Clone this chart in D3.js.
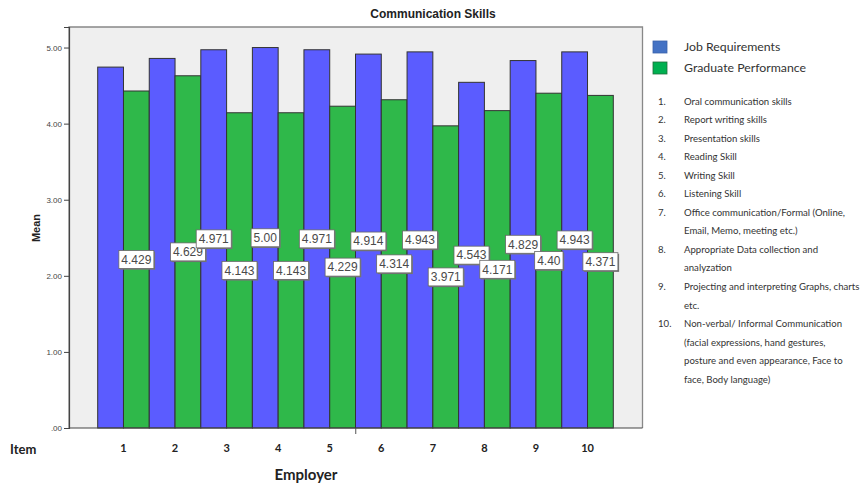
<!DOCTYPE html>
<html>
<head>
<meta charset="utf-8">
<script src="https://cdn.jsdelivr.net/npm/d3@7"></script>
<style>
  html, body { margin: 0; padding: 0; background: #fff; }
  svg { display: block; }
</style>
</head>
<body>
<svg id="chart" width="860" height="484"></svg>
<script>
// Item numbers along the x axis
const items = ["1", "2", "3", "4", "5", "6", "7", "8", "9", "10"];
// Mean scores per item
const jobRequirements = [4.743, 4.857, 4.971, 5.00, 4.971, 4.914, 4.943, 4.543, 4.829, 4.943];
const graduatePerformance = [4.429, 4.629, 4.143, 4.143, 4.229, 4.314, 3.971, 4.171, 4.40, 4.371];
// Value labels shown on the bars (null = no label)
const jobLabels = [null, null, "4.971", "5.00", "4.971", "4.914", "4.943", "4.543", "4.829", "4.943"];
const gradLabels = ["4.429", "4.629", "4.143", "4.143", "4.229", "4.314", "3.971", "4.171", "4.40", "4.371"];
const seriesNames = ["Job Requirements", "Graduate Performance"];
const yTicks = [0, 1, 2, 3, 4, 5];
const itemDescriptions = [
  ["1.", ["Oral communication skills"]],
  ["2.", ["Report writing skills"]],
  ["3.", ["Presentation skills"]],
  ["4.", ["Reading Skill"]],
  ["5.", ["Writing Skill"]],
  ["6.", ["Listening Skill"]],
  ["7.", ["Office communication/Formal (Online,", "Email, Memo, meeting etc.)"]],
  ["8.", ["Appropriate Data collection and", "analyzation"]],
  ["9.", ["Projecting and interpreting Graphs, charts", "etc."]],
  ["10.", ["Non-verbal/ Informal Communication", "(facial expressions, hand gestures,", "posture and even appearance, Face to", "face, Body language)"]]
];

const svg = d3.select("#chart");
const frame = { left: 69, right: 642.5, top: 27, bottom: 428 };
const barColors = ["#5b5cff", "#2fb84a"];
const legendColors = ["#4472c4", "#00b050"];

const x = d3.scaleBand().domain(items).range([97.7, 613.3]).paddingInner(0).paddingOuter(0);
const xs = d3.scaleBand().domain([0, 1]).range([0, x.bandwidth()]);
const y = d3.scaleLinear().domain([0, 5.27]).range([frame.bottom, frame.top]);

// Plot background
svg.append("rect")
  .attr("x", frame.left).attr("y", frame.top)
  .attr("width", frame.right - frame.left).attr("height", frame.bottom - frame.top)
  .attr("fill", "#efefef");

// Title
svg.append("text")
  .attr("x", 433).attr("y", 18)
  .attr("text-anchor", "middle")
  .attr("font-family", "Liberation Sans, Arial, sans-serif")
  .attr("font-weight", "bold").attr("font-size", 12).attr("fill", "#222")
  .text("Communication Skills");

// Bars
const seriesData = [jobRequirements, graduatePerformance];
const groups = svg.append("g").selectAll("g")
  .data(items).join("g")
  .attr("transform", d => `translate(${x(d)},0)`);

groups.selectAll("rect")
  .data((d, i) => [0, 1].map(s => ({ s, v: seriesData[s][i] })))
  .join("rect")
  .attr("x", d => xs(d.s))
  .attr("y", d => y(d.v))
  .attr("width", xs.bandwidth())
  .attr("height", d => y(0) - y(d.v))
  .attr("fill", d => barColors[d.s])
  .attr("stroke", "#333").attr("stroke-width", 1);

// Frame lines
svg.append("path")
  .attr("d", `M${frame.left},${frame.bottom}V${frame.top}H${frame.right}V${frame.bottom}`)
  .attr("fill", "none").attr("stroke", "#888").attr("stroke-width", 1.3);

// Y axis
const yAxis = d3.axisLeft(y).tickValues(yTicks).tickSize(5).tickPadding(2)
  .tickFormat(d => d === 0 ? ".00" : d3.format(".2f")(d));
const yg = svg.append("g").attr("transform", `translate(${frame.left},0)`).call(yAxis);
yg.select(".domain").attr("stroke", "#444").attr("stroke-width", 1.2);
yg.selectAll(".tick line").attr("stroke", "#444");
yg.selectAll(".tick text").attr("font-family", "Liberation Sans, Arial, sans-serif")
  .attr("font-size", 8).attr("fill", "#444");

// X axis baseline
svg.append("line")
  .attr("x1", frame.left).attr("x2", frame.right)
  .attr("y1", frame.bottom).attr("y2", frame.bottom)
  .attr("stroke", "#444").attr("stroke-width", 1.2);
svg.append("line")
  .attr("x1", (frame.left + frame.right) / 2).attr("x2", (frame.left + frame.right) / 2)
  .attr("y1", frame.bottom).attr("y2", frame.bottom + 6)
  .attr("stroke", "#555").attr("stroke-width", 1);

// Item numbers
svg.append("g").selectAll("text")
  .data(items).join("text")
  .attr("x", d => x(d) + x.bandwidth() / 2)
  .attr("y", 452)
  .attr("text-anchor", "middle")
  .attr("font-family", "Lato, Carlito, sans-serif")
  .attr("font-weight", "bold").attr("font-size", 11).attr("fill", "#222")
  .text(d => d);

svg.append("text")
  .attr("x", 10).attr("y", 454)
  .attr("font-family", "Lato, Carlito, sans-serif")
  .attr("font-weight", "bold").attr("font-size", 13).attr("fill", "#222")
  .text("Item");

svg.append("text")
  .attr("x", 306).attr("y", 480)
  .attr("text-anchor", "middle")
  .attr("font-family", "Lato, Carlito, sans-serif")
  .attr("font-weight", "bold").attr("font-size", 15).attr("fill", "#222")
  .text("Employer");

svg.append("text")
  .attr("transform", `translate(40,228) rotate(-90)`)
  .attr("text-anchor", "middle")
  .attr("font-family", "Liberation Sans, Arial, sans-serif")
  .attr("font-weight", "bold").attr("font-size", 11).attr("fill", "#222")
  .text("Mean");

// Value labels at bar midpoints
const labelData = [];
items.forEach((it, i) => {
  [jobLabels, gradLabels].forEach((arr, s) => {
    if (arr[i] !== null) {
      labelData.push({ cx: x(it) + xs(s) + xs.bandwidth() / 2, cy: y(seriesData[s][i] / 2), text: arr[i] });
    }
  });
});

const lab = svg.append("g").selectAll("g").data(labelData).join("g")
  .attr("transform", d => `translate(${d.cx},${d.cy})`);
const shadow = lab.append("rect").attr("fill", "#777");
const box = lab.append("rect").attr("fill", "#fff").attr("stroke", "#666").attr("stroke-width", 0.8);
const txt = lab.append("text")
  .attr("text-anchor", "middle").attr("dy", "0.36em")
  .attr("font-family", "Liberation Sans, Arial, sans-serif")
  .attr("font-size", 12).attr("fill", "#4a4a4a")
  .text(d => d.text);
txt.each(function(d) { d.w = this.getComputedTextLength() + 5; });
box.attr("x", d => -d.w / 2).attr("y", -9).attr("width", d => d.w).attr("height", 18);
shadow.attr("x", d => -d.w / 2 + 1.2).attr("y", -7.8).attr("width", d => d.w).attr("height", 18);

// Legend
const lg = svg.append("g");
seriesNames.forEach((name, i) => {
  const yy = 41 + i * 21;
  lg.append("rect").attr("x", 653).attr("y", yy).attr("width", 14).attr("height", 12)
    .attr("fill", legendColors[i]).attr("stroke", i === 0 ? "#3a62aa" : "#1f6e3a").attr("stroke-width", 0.8);
  lg.append("text").attr("x", 684).attr("y", yy + 10)
    .attr("font-family", "Lato, Carlito, sans-serif")
    .attr("font-size", 12.3).attr("fill", "#333")
    .text(name);
});

// Item descriptions
let line = 0;
const listTop = 104.5, lineH = 18.55;
itemDescriptions.forEach(([num, lines]) => {
  lg.append("text").attr("x", 658).attr("y", listTop + line * lineH)
    .attr("font-family", "Lato, Carlito, sans-serif")
    .attr("font-size", 9.6).attr("fill", "#333").text(num);
  lines.forEach(t => {
    lg.append("text").attr("x", 684).attr("y", listTop + line * lineH)
      .attr("font-family", "Lato, Carlito, sans-serif")
      .attr("font-size", 9.6).attr("fill", "#333").text(t);
    line++;
  });
});
</script>
</body>
</html>
